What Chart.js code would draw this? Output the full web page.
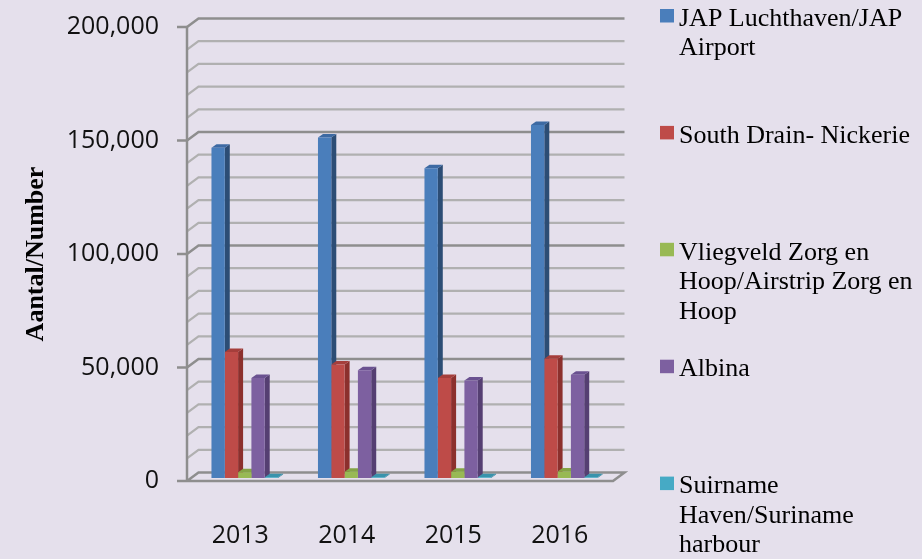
<!DOCTYPE html>
<html><head><meta charset="utf-8">
<script src="https://cdn.jsdelivr.net/npm/chart.js@4"></script>
<style>html,body{margin:0;padding:0;background:#e5e0ec;}canvas{display:block}</style>
</head><body>
<canvas id="c" width="922" height="559"></canvas>
<script>
// ---- data ----
const categories = ['2013', '2014', '2015', '2016'];
const seriesNames = [
  ['JAP Luchthaven/JAP', 'Airport'],
  ['South Drain- Nickerie'],
  ['Vliegveld Zorg en', 'Hoop/Airstrip Zorg en', 'Hoop'],
  ['Albina'],
  ['Suirname', 'Haven/Suriname', 'harbour']
];
const japAirport   = [145500, 150000, 136500, 155500];
const southDrain   = [55500, 50000, 44000, 52500];
const zorgEnHoop   = [2500, 2800, 2800, 2900];
const albina       = [44000, 47500, 43000, 45500];
const surinameHarbour = [300, 300, 300, 300];
const yTickLabels = ['0', '50,000', '100,000', '150,000', '200,000'];
const axisTitle = 'Aantal/Number';

// ---- styles ----
const faceColors = ['#4a7ebb', '#be4b48', '#98b954', '#7d60a0', '#46aac5'];
const sideColors = ['#2c4d75', '#8c302d', '#6c8a38', '#553f72', '#2d7f98'];
const topColors  = ['#3d6aa3', '#a53e3b', '#84a446', '#6a5190', '#3993ac'];
const SHIFT = {dx: 4.5, dy: -3};
const BAR = {dx: 5, dy: -3.5};
const WALL = {dx: 11.5, dy: -8.5};

const allSeries = [japAirport, southDrain, zorgEnHoop, albina, surinameHarbour];

const p3d = {
  id: 'p3d',
  beforeDraw(chart) {
    const ctx = chart.ctx;
    ctx.save();
    ctx.fillStyle = '#e5e0ec';
    ctx.fillRect(0, 0, chart.width, chart.height);
    ctx.restore();
  },
  beforeDatasetsDraw(chart) {
    const {ctx, chartArea: a, scales: {y}} = chart;
    ctx.save();
    ctx.lineJoin = 'miter';
    y.ticks.forEach(t => {
      const v = t.value;
      const py = y.getPixelForValue(v);
      const major = v % 50000 === 0;
      ctx.strokeStyle = major ? '#8e8e8e' : '#b0b0b0';
      ctx.lineWidth = major ? 2.5 : 2.2;
      ctx.beginPath();
      ctx.moveTo(a.left, py);
      ctx.lineTo(a.left + WALL.dx, py + WALL.dy);
      ctx.lineTo(a.right + WALL.dx, py + WALL.dy);
      if (v === 0) {
        ctx.lineTo(a.right, py);
        ctx.lineTo(a.left, py);
      }
      ctx.stroke();
      if (major) {
        ctx.beginPath();
        ctx.moveTo(a.left - 10, py);
        ctx.lineTo(a.left, py);
        ctx.stroke();
      }
    });
    ctx.strokeStyle = '#8e8e8e';
    ctx.lineWidth = 2.5;
    ctx.beginPath();
    ctx.moveTo(a.left, y.getPixelForValue(y.max));
    ctx.lineTo(a.left, y.getPixelForValue(0));
    ctx.stroke();
    ctx.restore();

    ctx.save();
    ctx.translate(SHIFT.dx, SHIFT.dy);
    ['side', 'top'].forEach(pass => {
      chart.data.datasets.forEach((ds, i) => {
        const meta = chart.getDatasetMeta(i);
        meta.data.forEach(bar => {
          const p = bar.getProps(['x', 'y', 'base', 'width'], true);
          const l = p.x - p.width / 2, r = p.x + p.width / 2;
          ctx.beginPath();
          if (pass === 'side') {
            ctx.fillStyle = sideColors[i];
            ctx.moveTo(r, p.y);
            ctx.lineTo(r + BAR.dx, p.y + BAR.dy);
            ctx.lineTo(r + BAR.dx, p.base + BAR.dy);
            ctx.lineTo(r, p.base);
          } else {
            ctx.fillStyle = topColors[i];
            ctx.moveTo(l, p.y);
            ctx.lineTo(l + BAR.dx, p.y + BAR.dy);
            ctx.lineTo(r + BAR.dx, p.y + BAR.dy);
            ctx.lineTo(r, p.y);
          }
          ctx.closePath();
          ctx.fill();
        });
      });
    });
  },
  afterDatasetsDraw(chart) {
    chart.ctx.restore();
  },
  afterDraw(chart) {
    const ctx = chart.ctx;
    ctx.save();
    ctx.font = '26px "Liberation Serif", "Times New Roman", serif';
    ctx.fillStyle = '#000';
    ctx.textBaseline = 'alphabetic';
    ctx.textAlign = 'left';
    seriesNames.forEach((lines, i) => {
      const base = 25.7 + i * 116.9;
      ctx.fillStyle = faceColors[i];
      ctx.fillRect(660, base - 16.7, 14, 13.5);
      ctx.fillStyle = '#000';
      lines.forEach((ln, j) => ctx.fillText(ln, 679, base + j * 29.5));
    });
    ctx.restore();
  }
};

new Chart(document.getElementById('c'), {
  type: 'bar',
  data: {
    labels: categories,
    datasets: allSeries.map((vals, i) => ({
      label: seriesNames[i].join(' '),
      data: vals,
      backgroundColor: faceColors[i],
      borderWidth: 0,
      categoryPercentage: 0.625,
      barPercentage: 1.0
    }))
  },
  options: {
    responsive: false,
    animation: false,
    layout: {padding: {left: 0, right: 309, top: 27, bottom: 0}},
    plugins: {legend: {display: false}, tooltip: {enabled: false}},
    scales: {
      x: {
        grid: {display: false, drawTicks: true, tickLength: 40},
        border: {display: false},
        ticks: {color: '#111', font: {family: '"Open Sans"', size: 25}, padding: 0, maxRotation: 0},
        afterFit(s) { s.height = 78; }
      },
      y: {
        min: 0, max: 200000,
        grid: {display: false, drawTicks: true, tickLength: 28},
        border: {display: false},
        ticks: {
          stepSize: 10000, autoSkip: false,
          color: '#111', font: {family: '"Open Sans"', size: 25}, padding: 0,
          callback: v => (v % 50000 === 0 ? yTickLabels[v / 50000] : '')
        },
        title: {
          display: true, text: axisTitle, color: '#000',
          font: {family: '"Liberation Serif", "Times New Roman", serif', size: 26, weight: 'bold'},
          padding: {top: 21, bottom: 0}
        },
        afterFit(s) { s.width = 187; }
      }
    }
  },
  plugins: [p3d]
});
</script>
</body></html>
